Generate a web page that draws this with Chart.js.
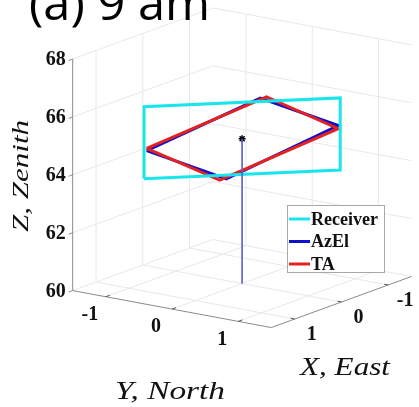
<!DOCTYPE html>
<html><head><meta charset="utf-8">
<script src="https://cdn.jsdelivr.net/npm/chart.js@4.4.1/dist/chart.umd.min.js"></script>
<style>html,body{margin:0;padding:0;background:#fff;overflow:hidden}#wrap{width:419px;height:407px;position:relative}</style>
</head><body><div id="wrap"><canvas id="c" width="419" height="407"></canvas></div>
<script>
// ---------------- data ----------------
const titleText = '(a) 9 am';
const seriesNames = ['Receiver', 'AzEl', 'TA'];
const xEastTicks = [-1, 0, 1];
const yNorthTicks = [-1, 0, 1];
const zZenithTicks = [60, 62, 64, 66, 68];
const xEastRange = [-1.5, 1.5];
const yNorthRange = [-1.5, 1.5];
const zZenithRange = [60, 68];

const receiverX = [0.88, -0.88, -0.88, 0.88, 0.88];
const receiverY = [-0.86, 0.86, 0.86, -0.86, -0.86];
const receiverZ = [63.77, 63.77, 66.26, 66.26, 63.77];

const azelX = [0.856, -0.163, -0.862, 0.142, 0.856];
const azelY = [-0.837, 0.160, 0.843, -0.139, -0.837];
const azelZ = [64.74, 66.38, 65.31, 63.64, 64.74];

const taX = [0.856, -0.219, -0.862, 0.201, 0.856];
const taY = [-0.837, 0.214, 0.843, -0.196, -0.837];
const taZ = [64.82, 66.41, 65.20, 63.61, 64.82];

const centerX = [0];
const centerY = [0];
const centerZ = [65];

// ---------------- view (orthographic projection) ----------------
const VIEW = {ox: 243, oy: 285.75, yx: 68, yy: 12.67, xx: -48, xy: 17.5, zy: -29.75};
function proj(X, Y, Z) {
  return {x: VIEW.ox + VIEW.yx * Y + VIEW.xx * X,
          y: VIEW.oy + VIEW.yy * Y + VIEW.xy * X + VIEW.zy * (Z - zZenithRange[0])};
}
function toPts(xs, ys, zs) { return xs.map((v, i) => proj(v, ys[i], zs[i])); }

const COLORS = {Receiver: '#19e6ec', AzEl: '#1010cc', TA: '#e32222'};

const datasets = [
  {label: 'stem', data: [proj(centerX[0], centerY[0], centerZ[0]), proj(centerX[0], centerY[0], zZenithRange[0])],
   showLine: true, borderColor: 'rgba(90,90,210,0.85)', borderWidth: 1, pointRadius: 0},
  {label: 'Receiver', data: toPts(receiverX, receiverY, receiverZ), showLine: true,
   borderColor: COLORS.Receiver, borderWidth: 3, pointRadius: 0},
  {label: 'TA', data: toPts(taX, taY, taZ), showLine: true,
   borderColor: COLORS.TA, borderWidth: 3, pointRadius: 0},
  {label: 'AzEl', data: toPts(azelX, azelY, azelZ), showLine: true,
   borderColor: COLORS.AzEl, borderWidth: 3, pointRadius: 0},
  {label: 'center', data: toPts(centerX, centerY, centerZ), showLine: false,
   pointStyle: 'star', pointRadius: 3.5, borderColor: '#000', backgroundColor: '#000', borderWidth: 1.5}
];

function fitText(ctx, txt, cx, by, w, font) {
  ctx.font = font;
  const m = ctx.measureText(txt).width;
  ctx.save(); ctx.translate(cx, by); ctx.scale(w / m, 1);
  ctx.textAlign = 'center'; ctx.textBaseline = 'alphabetic';
  ctx.fillText(txt, 0, 0); ctx.restore();
}

const scenePlugin = {
  id: 'scene3d',
  beforeDatasetsDraw(chart) {
    const ctx = chart.ctx, sx = chart.scales.x, sy = chart.scales.y;
    const P = (X, Y, Z) => { const p = proj(X, Y, Z); return [sx.getPixelForValue(p.x), sy.getPixelForValue(p.y)]; };
    const line = (a, b, col, w) => { ctx.beginPath(); ctx.strokeStyle = col; ctx.lineWidth = w; ctx.moveTo(a[0], a[1]); ctx.lineTo(b[0], b[1]); ctx.stroke(); };
    const [x0, x1] = xEastRange, [y0, y1] = yNorthRange, [z0, z1] = zZenithRange;
    const g = '#e8e8e8';
    ctx.save();
    // floor grid
    xEastTicks.forEach(t => line(P(t, y0, z0), P(t, y1, z0), g, 1));
    yNorthTicks.forEach(t => line(P(x0, t, z0), P(x1, t, z0), g, 1));
    // back wall Y = y0
    xEastTicks.forEach(t => line(P(t, y0, z0), P(t, y0, z1), g, 1));
    zZenithTicks.forEach(t => line(P(x1, y0, t), P(x0, y0, t), g, 1));
    // back wall X = x0
    yNorthTicks.forEach(t => line(P(x0, t, z0), P(x0, t, z1), g, 1));
    zZenithTicks.forEach(t => line(P(x0, y0, t), P(x0, y1, t), g, 1));
    // axes
    const ac = '#8a8a8a';
    line(P(x1, y0, z0), P(x1, y0, z1), ac, 1);
    line(P(x1, y0, z0), P(x1, y1, z0), ac, 1);
    line(P(x1, y1, z0), P(x0, y1, z0), ac, 1);
    // ticks
    zZenithTicks.forEach(t => { const a = P(x1, y0, t); line(a, [a[0] - 4, a[1] + 1.5], ac, 1); });
    yNorthTicks.forEach(t => { const a = P(x1, t, z0); line(a, [a[0] + 4, a[1] - 1.5], '#555', 1); });
    xEastTicks.forEach(t => { const a = P(t, y1, z0); line(a, [a[0] - 4, a[1] - 0.8], '#555', 1); });
    // tick labels
    ctx.fillStyle = '#111';
    ctx.font = 'bold 20px "Liberation Serif"';
    ctx.textBaseline = 'middle';
    ctx.textAlign = 'right';
    zZenithTicks.forEach(t => { const a = P(x1, y0, t); ctx.fillText(String(t), a[0] - 7, a[1] + 1); });
    ctx.textAlign = 'center';
    yNorthTicks.forEach(t => { const a = P(x1, t, z0); ctx.fillText(String(t), a[0] - 16, a[1] + 18); });
    xEastTicks.forEach(t => { const a = P(t, y1, z0); ctx.fillText(String(t), a[0] + 17, a[1] + 16); });
    // axis titles
    ctx.fillStyle = '#111';
    fitText(ctx, 'Y, North', 170, 399, 110, 'italic 25px "Liberation Serif"');
    fitText(ctx, 'X, East', 345, 375, 90, 'italic 25px "Liberation Serif"');
    ctx.save(); ctx.translate(28, 176); ctx.rotate(-Math.PI / 2);
    fitText(ctx, 'Z, Zenith', 0, 0, 112, 'italic 24px "Liberation Serif"');
    ctx.restore();
    // title
    ctx.fillStyle = '#000';
    fitText(ctx, titleText, 119.5, 20, 181, '48px "Open Sans"');
    ctx.restore();
  },
  afterDatasetsDraw(chart) {
    const ctx = chart.ctx;
    ctx.save();
    ctx.fillStyle = '#fff'; ctx.strokeStyle = '#a8a8a8'; ctx.lineWidth = 1;
    ctx.fillRect(287.5, 205.5, 97, 67); ctx.strokeRect(287.5, 205.5, 97, 67);
    ctx.font = 'bold 18px "Liberation Serif"';
    ctx.textAlign = 'left'; ctx.textBaseline = 'middle';
    seriesNames.forEach((n, i) => {
      const y = 219 + i * 22.5;
      ctx.beginPath(); ctx.strokeStyle = COLORS[n]; ctx.lineWidth = 3;
      ctx.moveTo(289, y); ctx.lineTo(310, y); ctx.stroke();
      ctx.fillStyle = '#111'; ctx.fillText(n, 311, y + 1);
    });
    ctx.restore();
  }
};

new Chart(document.getElementById('c'), {
  type: 'scatter',
  data: {datasets},
  options: {
    responsive: false, animation: false, maintainAspectRatio: false,
    layout: {padding: 0},
    elements: {line: {tension: 0, borderJoinStyle: 'miter'}},
    scales: {
      x: {type: 'linear', min: 0, max: 419, display: false},
      y: {type: 'linear', min: 0, max: 407, reverse: true, display: false}
    },
    plugins: {legend: {display: false}, tooltip: {enabled: false}}
  },
  plugins: [scenePlugin]
});
</script></body></html>
